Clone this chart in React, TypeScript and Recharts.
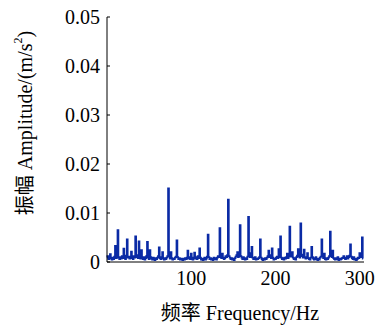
import { LineChart, Line, XAxis, YAxis, Label } from "recharts";

// spectrum amplitude, one value per Hz starting at 0 Hz
const amplitude = [
  0.0009, 0.0012, 0.0006, 0.0008, 0.0016, 0.0007, 0.0005, 0.0009, 0.0006, 0.0011,
  0.0033, 0.0008, 0.0012, 0.0065, 0.0009, 0.0006, 0.0010, 0.0007, 0.0012, 0.0008,
  0.0027, 0.0010, 0.0006, 0.0013, 0.0046, 0.0009, 0.0011, 0.0007, 0.0010, 0.0021,
  0.0008, 0.0006, 0.0012, 0.0009, 0.0052, 0.0010, 0.0014, 0.0008, 0.0042, 0.0011,
  0.0007, 0.0024, 0.0009, 0.0006, 0.0010, 0.0005, 0.0008, 0.0012, 0.0041, 0.0009,
  0.0006, 0.0024, 0.0010, 0.0007, 0.0005, 0.0009, 0.0006, 0.0004, 0.0008, 0.0006,
  0.0009, 0.0012, 0.0030, 0.0008, 0.0006, 0.0010, 0.0020, 0.0007, 0.0005, 0.0008,
  0.0006, 0.0009, 0.0012, 0.0150, 0.0011, 0.0007, 0.0020, 0.0008, 0.0005, 0.0007,
  0.0006, 0.0009, 0.0011, 0.0044, 0.0010, 0.0006, 0.0008, 0.0005, 0.0007, 0.0006,
  0.0004, 0.0007, 0.0005, 0.0008, 0.0006, 0.0009, 0.0023, 0.0007, 0.0010, 0.0006,
  0.0017, 0.0008, 0.0005, 0.0009, 0.0019, 0.0007, 0.0010, 0.0006, 0.0012, 0.0008,
  0.0028, 0.0009, 0.0005, 0.0007, 0.0004, 0.0006, 0.0009, 0.0005, 0.0007, 0.0011,
  0.0056, 0.0010, 0.0006, 0.0008, 0.0005, 0.0007, 0.0004, 0.0009, 0.0006, 0.0008,
  0.0005, 0.0009, 0.0012, 0.0010, 0.0069, 0.0011, 0.0008, 0.0017, 0.0009, 0.0006,
  0.0008, 0.0012, 0.0010, 0.0014, 0.0127, 0.0012, 0.0009, 0.0006, 0.0008, 0.0005,
  0.0007, 0.0004, 0.0008, 0.0011, 0.0014, 0.0020, 0.0010, 0.0013, 0.0075, 0.0012,
  0.0009, 0.0006, 0.0010, 0.0007, 0.0005, 0.0008, 0.0006, 0.0011, 0.0092, 0.0015,
  0.0010, 0.0018, 0.0031, 0.0009, 0.0006, 0.0008, 0.0010, 0.0005, 0.0007, 0.0006,
  0.0008, 0.0010, 0.0046, 0.0009, 0.0006, 0.0004, 0.0007, 0.0005, 0.0008, 0.0006,
  0.0009, 0.0012, 0.0023, 0.0010, 0.0014, 0.0008, 0.0028, 0.0009, 0.0005, 0.0007,
  0.0006, 0.0009, 0.0011, 0.0008, 0.0026, 0.0010, 0.0052, 0.0009, 0.0006, 0.0008,
  0.0005, 0.0009, 0.0007, 0.0010, 0.0017, 0.0008, 0.0012, 0.0072, 0.0011, 0.0014,
  0.0020, 0.0009, 0.0006, 0.0008, 0.0005, 0.0010, 0.0013, 0.0026, 0.0011, 0.0009,
  0.0079, 0.0015, 0.0012, 0.0009, 0.0025, 0.0010, 0.0007, 0.0009, 0.0018, 0.0008,
  0.0006, 0.0005, 0.0009, 0.0031, 0.0010, 0.0007, 0.0005, 0.0008, 0.0010, 0.0006,
  0.0004, 0.0007, 0.0005, 0.0009, 0.0011, 0.0046, 0.0012, 0.0008, 0.0017, 0.0006,
  0.0005, 0.0008, 0.0006, 0.0009, 0.0012, 0.0062, 0.0014, 0.0010, 0.0023, 0.0008,
  0.0006, 0.0005, 0.0008, 0.0006, 0.0010, 0.0004, 0.0007, 0.0005, 0.0006, 0.0008,
  0.0009, 0.0012, 0.0008, 0.0006, 0.0009, 0.0012, 0.0007, 0.0010, 0.0013, 0.0036,
  0.0011, 0.0008, 0.0006, 0.0010, 0.0005, 0.0007, 0.0004, 0.0006, 0.0009, 0.0008,
  0.0018, 0.0010, 0.0012, 0.0050, 0.0007,
];

const xTicks = [100, 200, 300];
const yTicks = [0, 0.01, 0.02, 0.03, 0.04, 0.05];

const data = amplitude.map((a, i) => ({ freq: i, amp: a }));

const FONT = '"Liberation Serif", "Noto Sans CJK SC", serif';

function YTick(props: any) {
  const { x, y, payload } = props;
  const v = payload.value;
  return (
    <g>
      <line x1={x + 7} x2={x + 10} y1={y} y2={y} stroke="#000" strokeWidth={1} />
      <text x={x} y={y} dy="0.36em" textAnchor="end" fontSize={20} fill="#000" fontFamily={FONT}>
        {v === 0 ? "0" : v.toFixed(2)}
      </text>
    </g>
  );
}

function YTitle() {
  return (
    <text
      x={25}
      y={123}
      transform="rotate(-90, 25, 123)"
      textAnchor="middle"
      dominantBaseline="central"
      fontSize={20}
      fill="#000"
      fontFamily={FONT}
    >
      振幅 Amplitude/(m/s<tspan dy={-7} fontSize={12}>2</tspan>
      <tspan dy={7}>)</tspan>
    </text>
  );
}

function XTitle() {
  return (
    <text x={240} y={320} textAnchor="middle" fontSize={20} fill="#000" fontFamily={FONT}>
      频率 Frequency/Hz
    </text>
  );
}

export default function App() {
  return (
    <div style={{ position: "absolute", left: 0, top: 0, background: "#fff" }}>
      <LineChart
        width={380}
        height={327}
        data={data}
        margin={{ top: 17, right: 16, left: 0, bottom: 0 }}
        style={{ fontFamily: FONT }}
      >
        <XAxis
          dataKey="freq"
          type="number"
          domain={[0, 305]}
          ticks={xTicks}
          height={65}
          tickLine={false}
          tickSize={0}
          tickMargin={9}
          axisLine={{ stroke: "#000" }}
          tick={{ fontSize: 20, fill: "#000", fontFamily: FONT }}
        >
          <Label content={<XTitle />} />
        </XAxis>
        <YAxis
          type="number"
          domain={[0, 0.05]}
          ticks={yTicks}
          width={107}
          tickLine={false}
          tickSize={0}
          tickMargin={7}
          axisLine={{ stroke: "#000" }}
          tick={<YTick />}
          interval={0}
        >
          <Label content={<YTitle />} />
        </YAxis>
        <Line
          type="step"
          dataKey="amp"
          stroke="#0a2aa5"
          strokeWidth={1.8}
          dot={false}
          isAnimationActive={false}
        />
      </LineChart>
    </div>
  );
}
